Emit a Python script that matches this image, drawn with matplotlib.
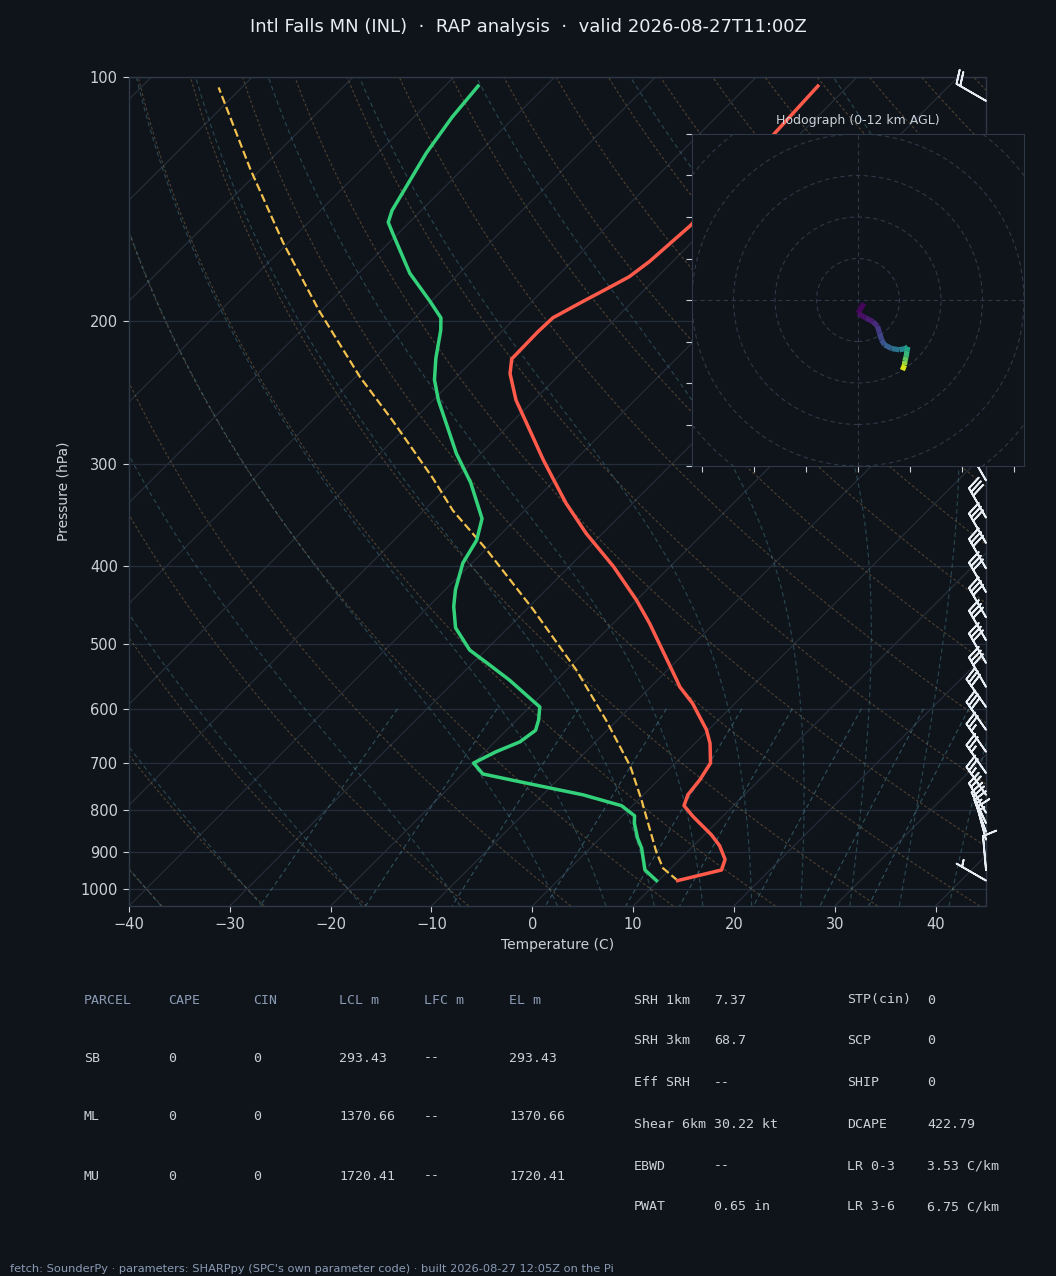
import numpy as np
import matplotlib
matplotlib.use("Agg")
import matplotlib.pyplot as plt
from matplotlib.axes import Axes
import matplotlib.transforms as mtransforms
from matplotlib.projections import register_projection
from matplotlib.collections import LineCollection
from matplotlib.patches import Rectangle, Circle
from matplotlib.ticker import FixedLocator, NullLocator, FuncFormatter, NullFormatter
from matplotlib.colors import Normalize

# ---------------------------------------------------------------- data
title = "Intl Falls MN (INL)  \u00b7  RAP analysis  \u00b7  valid 2026-08-27T11:00Z"
footer = ("fetch: SounderPy \u00b7 parameters: SHARPpy (SPC's own parameter code) "
          "\u00b7 built 2026-08-27 12:05Z on the Pi")

# temperature profile (hPa, degC)
temp_p = [977, 948, 920, 885, 858, 815, 790, 766, 734, 700, 662, 637, 591, 564,
          553, 471, 441, 401, 365, 335, 312, 296, 272, 250, 232, 222.5, 206, 198,
          190, 181.6, 176.2, 168.8, 152.2, 135, 117.2, 102.6]
temp_c = [11.9, 15.2, 14.5, 12.6, 10.7, 7.1, 5.1, 4.4, 4.1, 3.5, 1.5, -0.2, -4.2,
          -7.1, -8.1, -16.4, -20.0, -25.6, -31.6, -36.6, -40.4, -43.2, -47.5,
          -51.8, -55.0, -56.3, -56.4, -56.3, -55.1, -53.7, -52.8, -52.3, -51.8,
          -52.2, -52.6, -53.0]

# dewpoint profile (hPa, degC)
dew_p = [977, 948, 891, 866, 830, 813, 790, 766, 738, 722, 700, 678, 659, 638,
         620, 597, 582, 553, 527, 508, 477, 449, 428, 397, 372, 350, 316, 291,
         270, 250, 236, 222, 205, 198, 189, 174.5, 156, 151, 146, 124, 112, 102.6]
dew_c = [9.8, 7.6, 5.1, 3.7, 1.9, 1.2, -1.1, -6.0, -13.6, -18.0, -20.0, -18.9,
         -17.5, -17.1, -17.8, -19.0, -20.9, -24.7, -28.6, -31.6, -35.2, -37.5,
         -39.0, -40.9, -41.8, -43.4, -48.1, -52.4, -55.9, -59.5, -61.9, -63.9,
         -66.2, -67.4, -70.1, -74.9, -80.5, -82.1, -82.9, -85.2, -86.2, -86.7]

# surface-based parcel path (hPa, degC)
parcel_p = [977, 943, 900, 777, 707, 620, 538, 453, 382, 342, 312, 265, 234,
            194, 160, 130, 103]
parcel_c = [11.9, 9.2, 6.9, 0.3, -4.1, -11.1, -19.0, -29.3, -39.9, -47.1, -52.3,
            -62.0, -69.6, -80.2, -90.5, -101.0, -112.3]

# wind barbs (hPa, kt, direction from)
barb_p = [107, 314, 349, 375, 403, 431, 463, 494, 527, 564, 597, 637, 678, 720,
          766, 806, 830, 851, 870, 948, 977]
barb_kt = [20, 30, 30, 30, 30, 30, 30, 30, 30, 30, 30, 30, 25, 25, 25, 20, 20,
           15, 15, 10, 5]
barb_dir = [300, 330, 330, 330, 330, 330, 330, 330, 330, 330, 325, 325, 325, 325,
            325, 330, 335, 340, 345, 355, 300]

# hodograph (u, v, height km AGL)
hodo_u = [1.4, 0.0, 1.8, 3.6, 4.7, 5.2, 5.7, 6.4, 8.1, 10.0, 11.4, 12.0, 11.8,
          11.6, 11.3, 11.2, 10.7]
hodo_v = [-0.8, -3.2, -4.3, -5.2, -6.3, -8.0, -9.6, -10.8, -11.7, -12.0, -11.7,
          -11.3, -12.3, -13.7, -14.7, -15.7, -16.9]
hodo_z = [0.0, 0.3, 0.7, 1.2, 1.7, 2.2, 2.7, 3.2, 4.0, 5.0, 6.0, 6.5, 7.5, 8.5,
          9.5, 10.5, 12.0]

# parameter tables
parcel_cols = ["PARCEL", "CAPE", "CIN", "LCL m", "LFC m", "EL m"]
parcel_rows = [["SB", "0", "0", "293.43", "--", "293.43"],
               ["ML", "0", "0", "1370.66", "--", "1370.66"],
               ["MU", "0", "0", "1720.41", "--", "1720.41"]]
kin_labels = ["SRH 1km", "SRH 3km", "Eff SRH", "Shear 6km", "EBWD", "PWAT"]
kin_values = ["7.37", "68.7", "--", "30.22 kt", "--", "0.65 in"]
comp_labels = ["STP(cin)", "SCP", "SHIP", "DCAPE", "LR 0-3", "LR 3-6"]
comp_values = ["0", "0", "0", "422.79", "3.53 C/km", "6.75 C/km"]

x_ticks = list(range(-40, 41, 10))
p_ticks = [100, 200, 300, 400, 500, 600, 700, 800, 900, 1000]

# ---------------------------------------------------------------- style
BG = "#0f141b"
FG = "#e6edf3"
TXT = "#c9d1d9"
MUTED = "#8b9bb4"
SPINE = "#2e3846"
GRID = "#242d39"
RED = "#ff5a4a"
GREEN = "#33d17a"
YELLOW = "#f2c14e"

W, H = 1056, 1276
AX_L, AX_T, AX_R, AX_B = 129, 77, 986, 906


class SkewXAxes(Axes):
    name = "skewx"
    rot = 45.0

    def _set_lim_and_transforms(self):
        super()._set_lim_and_transforms()
        skew = mtransforms.Affine2D().skew_deg(self.rot, 0)
        self.transDataToAxes = self.transScale + self.transLimits + skew
        self.transData = self.transDataToAxes + self.transAxes
        self._xaxis_transform = (mtransforms.blended_transform_factory(
            self.transScale + self.transLimits, mtransforms.IdentityTransform())
            + skew) + self.transAxes


# 45 degree isotherms in display space
SkewXAxes.rot = float(np.degrees(np.arctan((AX_B - AX_T) / (AX_R - AX_L))))
register_projection(SkewXAxes)

fig = plt.figure(figsize=(W / 100, H / 100), dpi=100, facecolor=BG)
ax = fig.add_axes([AX_L / W, 1 - AX_B / H, (AX_R - AX_L) / W, (AX_B - AX_T) / H],
                  projection="skewx", facecolor=BG)
ax.set_yscale("log")
ax.set_ylim(1050, 100)
ax.set_xlim(-40, 45)
ax.set_autoscale_on(False)
for s in ax.spines.values():
    s.set_visible(False)
ax.add_patch(Rectangle((0, 0), 1, 1, transform=ax.transAxes, fill=False,
                       ec=SPINE, lw=1.0, zorder=6, clip_on=False))

ax.yaxis.set_major_locator(FixedLocator(p_ticks))
ax.yaxis.set_minor_locator(NullLocator())
ax.yaxis.set_major_formatter(FuncFormatter(lambda v, pos: f"{int(round(v))}"))
ax.yaxis.set_minor_formatter(NullFormatter())
ax.set_xticks(x_ticks)
ax.tick_params(colors=TXT, labelcolor=TXT, labelsize=10.5, length=4.5, width=0.8)
ax.yaxis.grid(True, color=GRID, lw=0.9)
ax.set_axisbelow(True)
ax.set_xlabel("Temperature (C)", color=TXT, fontsize=10)
ax.set_ylabel("Pressure (hPa)", color=TXT, fontsize=10, labelpad=7)

# isotherms
for t in range(-130, 50, 10):
    ax.axvline(t, color=GRID, lw=0.9, zorder=1)

# ---- thermodynamic reference lines
Rd, Cp, Lv, EPS = 287.04749, 1004.6662, 2.50084e6, 0.6219569
p_lines = np.linspace(1050, 100, 150)

t0_dry = np.arange(-40, 45 + 201, 10) + 273.15
dry = t0_dry[:, None] * (p_lines[None, :] / 1000.0) ** (Rd / Cp)
ax.add_collection(LineCollection(
    [np.column_stack([d - 273.15, p_lines]) for d in dry],
    colors="#9a7748", alpha=0.45, lw=0.8, linestyles=[(0, (2.5, 2.0))], zorder=1))


def _dtdp(T, p):
    es = 6.112 * np.exp(17.67 * (T - 273.15) / (T - 29.65))
    rs = EPS * es / np.maximum(p - es, 1e-3)
    return (Rd * T + Lv * rs) / (Cp + Lv * Lv * rs * EPS / (Rd * T * T)) / p


def _integrate(T0, p_arr):
    out = [T0.copy()]
    T = T0.copy()
    for i in range(len(p_arr) - 1):
        p = p_arr[i]
        h = p_arr[i + 1] - p
        k1 = _dtdp(T, p)
        k2 = _dtdp(T + h / 2 * k1, p + h / 2)
        k3 = _dtdp(T + h / 2 * k2, p + h / 2)
        k4 = _dtdp(T + h * k3, p + h)
        T = T + h / 6 * (k1 + 2 * k2 + 2 * k3 + k4)
        out.append(T)
    return np.array(out)


t0_moist = np.concatenate([np.arange(-40, 0, 10), np.arange(0, 66, 5)]) + 273.15
p_up = np.linspace(1000, 100, 181)
p_dn = np.linspace(1000, 1050, 11)
T_up = _integrate(t0_moist, p_up)
T_dn = _integrate(t0_moist, p_dn)
p_m = np.concatenate([p_dn[::-1], p_up[1:]])
T_m = np.concatenate([T_dn[::-1], T_up[1:]], axis=0)
ax.add_collection(LineCollection(
    [np.column_stack([T_m[:, i] - 273.15, p_m]) for i in range(T_m.shape[1])],
    colors="#4a8594", alpha=0.45, lw=0.8, linestyles=[(0, (4, 3))], zorder=1))

w_vals = np.array([0.0004, 0.001, 0.002, 0.004, 0.007, 0.01, 0.016, 0.024, 0.032])
p_mix = np.linspace(600, 1050, 50)
e = p_mix[None, :] * w_vals[:, None] / (EPS + w_vals[:, None])
lne = np.log(e / 6.112)
td_mix = 243.5 * lne / (17.67 - lne)
ax.add_collection(LineCollection(
    [np.column_stack([td_mix[i], p_mix]) for i in range(len(w_vals))],
    colors="#4a8594", alpha=0.55, lw=0.8, linestyles=[(0, (4, 3))], zorder=1))

# ---- profiles
ax.plot(parcel_c, parcel_p, color=YELLOW, lw=1.6, ls="--", zorder=4)
ax.plot(temp_c, temp_p, color=RED, lw=2.5, zorder=5)
ax.plot(dew_c, dew_p, color=GREEN, lw=2.5, zorder=5)

# ---- wind barbs on the right edge
spd = np.array(barb_kt, float)
wd = np.radians(np.array(barb_dir, float))
bu = -spd * np.sin(wd)
bv = -spd * np.cos(wd)
ax.barbs(np.ones(len(barb_p)), barb_p, bu, bv, transform=ax.get_yaxis_transform(),
         clip_on=False, color=FG, lw=1.3, zorder=6)

# ---- hodograph inset
HX0, HY0, HS = 692, 134, 332
hax = fig.add_axes([HX0 / W, 1 - (HY0 + HS) / H, HS / W, HS / H], facecolor=BG)
hax.set_xlim(-40, 40)
hax.set_ylim(-40, 40)
for s in hax.spines.values():
    s.set_color(SPINE)
hax.set_xticks([-37.5, -25, -12.5, 0, 12.5, 25, 37.5])
hax.set_yticks(range(-40, 41, 10))
hax.tick_params(colors=TXT, labelbottom=False, labelleft=False, length=4, width=0.8)
for r in range(10, 60, 10):
    hax.add_patch(Circle((0, 0), r, fill=False, ec=SPINE, lw=0.8, ls=(0, (4, 3))))
hax.axhline(0, color=SPINE, lw=0.8, ls=(0, (4, 3)))
hax.axvline(0, color=SPINE, lw=0.8, ls=(0, (4, 3)))
pts = np.column_stack([hodo_u, hodo_v])
segs = np.stack([pts[:-1], pts[1:]], axis=1)
zmid = 0.5 * (np.array(hodo_z[:-1]) + np.array(hodo_z[1:]))
lc = LineCollection(segs, cmap="viridis", norm=Normalize(0, 12), lw=3.8,
                    capstyle="butt", zorder=4)
lc.set_array(zmid)
hax.add_collection(lc)
hax.set_title("Hodograph (0-12 km AGL)", color=TXT, fontsize=9, pad=7)

# ---- titles & tables
fig.text(0.5, 1 - 27 / H, title, ha="center", va="center", fontsize=13, color=FG)

mono = dict(family="DejaVu Sans Mono", fontsize=9.5, va="center")
col_x = [84, 168, 253, 339, 424, 509]
row_y = [1000, 1058, 1117, 1176]
for cx, name in zip(col_x, parcel_cols):
    fig.text(cx / W, 1 - row_y[0] / H, name, color=MUTED, **mono)
for ry, row in zip(row_y[1:], parcel_rows):
    for cx, val in zip(col_x, row):
        fig.text(cx / W, 1 - ry / H, val, color=TXT, **mono)

k_rows = [1000, 1041, 1083, 1124, 1166, 1207]
for ry, lab, val in zip(k_rows, kin_labels, kin_values):
    fig.text(634 / W, 1 - ry / H, lab, color=TXT, **mono)
    fig.text(714 / W, 1 - ry / H, val, color=TXT, **mono)
for ry, lab, val in zip(k_rows, comp_labels, comp_values):
    fig.text(847 / W, 1 - ry / H, lab, color=TXT, **mono)
    fig.text(927 / W, 1 - ry / H, val, color=TXT, **mono)

fig.text(10 / W, 1 - 1269 / H, footer, ha="left", va="center", fontsize=8.2,
         color=MUTED)

fig.savefig("out.png", dpi=100, facecolor=BG)
